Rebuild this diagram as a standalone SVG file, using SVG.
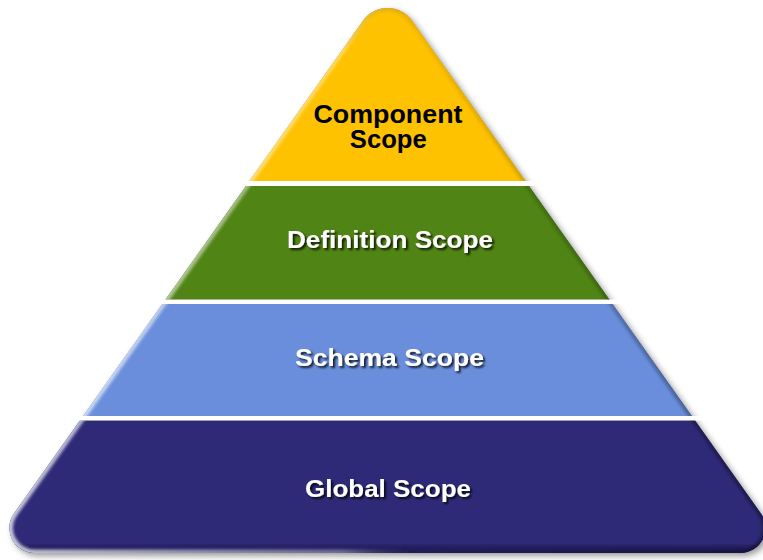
<svg xmlns="http://www.w3.org/2000/svg" width="763" height="560" viewBox="0 0 763 560">
  <defs>
    <!-- rounded pyramid outline -->
    <path id="pyr" d="M 363.1 20.5 A 30 30 0 0 1 411.9 20.5 L 761 513.5 A 25 25 0 0 1 740.6 553 L 34.4 553 A 25 25 0 0 1 14 513.5 Z"/>
    <clipPath id="c-top"><rect x="0" y="0" width="763" height="181"/></clipPath>
    <clipPath id="c-def"><rect x="0" y="186" width="763" height="113.5"/></clipPath>
    <clipPath id="c-sch"><rect x="0" y="304" width="763" height="112"/></clipPath>
    <clipPath id="c-glo"><rect x="0" y="420.5" width="763" height="140"/></clipPath>
    <clipPath id="c-pyr"><use href="#pyr"/></clipPath>
    <linearGradient id="edgeH" x1="0" y1="0" x2="763" y2="0" gradientUnits="userSpaceOnUse">
      <stop offset="0" stop-color="#fff" stop-opacity="0.75"/>
      <stop offset="0.45" stop-color="#fff" stop-opacity="0.35"/>
      <stop offset="0.55" stop-color="#000" stop-opacity="0.05"/>
      <stop offset="1" stop-color="#000" stop-opacity="0.35"/>
    </linearGradient>
    <filter id="soft" x="-5%" y="-5%" width="110%" height="110%">
      <feGaussianBlur stdDeviation="1.6"/>
    </filter>
    <filter id="drop" x="-5%" y="-5%" width="115%" height="115%">
      <feGaussianBlur in="SourceAlpha" stdDeviation="3"/>
      <feOffset dx="3" dy="3" result="b"/>
      <feFlood flood-color="#000" flood-opacity="0.4"/>
      <feComposite in2="b" operator="in"/>
      <feMerge><feMergeNode/><feMergeNode in="SourceGraphic"/></feMerge>
    </filter>
    <filter id="tshadow" x="-10%" y="-30%" width="120%" height="160%">
      <feGaussianBlur in="SourceAlpha" stdDeviation="1.2"/>
      <feOffset dx="1.5" dy="2" result="b"/>
      <feFlood flood-color="#000" flood-opacity="0.8"/>
      <feComposite in2="b" operator="in"/>
      <feMerge><feMergeNode/><feMergeNode in="SourceGraphic"/></feMerge>
    </filter>
  </defs>
  <style>
    .lbl { font-family: "Liberation Sans", Arial, Helvetica, sans-serif; font-weight: bold; text-anchor: middle; }
    .w { fill: #ffffff; }
    .k { fill: #000000; }
    .bevel { fill: none; stroke: url(#edgeH); stroke-width: 7; filter: url(#soft); }
  </style>

  <rect width="763" height="560" fill="#ffffff"/>

  <!-- soft shadow under the whole pyramid; the white gaps are cut back in over it -->
  <use href="#pyr" fill="#888888" filter="url(#drop)"/>
  <rect x="0" y="181" width="763" height="5" fill="#ffffff"/>
  <rect x="0" y="299.5" width="763" height="4.5" fill="#ffffff"/>
  <rect x="0" y="416" width="763" height="4.5" fill="#ffffff"/>

  <g id="global-scope">
    <g clip-path="url(#c-glo)">
      <g clip-path="url(#c-pyr)">
        <rect x="0" y="420.5" width="763" height="140" fill="#2e2a78"/>
        <rect x="0" y="545" width="763" height="12" fill="#1a1750" opacity="0.6" filter="url(#soft)"/>
        <use href="#pyr" class="bevel"/>
      </g>
    </g>
    <text class="lbl w" x="388" y="497" font-size="24.5" textLength="166" lengthAdjust="spacingAndGlyphs" filter="url(#tshadow)">Global Scope</text>
  </g>

  <g id="schema-scope">
    <g clip-path="url(#c-sch)">
      <g clip-path="url(#c-pyr)">
        <rect x="0" y="304" width="763" height="112" fill="#6a8edb"/>
        <use href="#pyr" class="bevel"/>
      </g>
    </g>
    <text class="lbl w" x="389.5" y="365.5" font-size="24" textLength="189" lengthAdjust="spacingAndGlyphs" filter="url(#tshadow)">Schema Scope</text>
  </g>

  <g id="definition-scope">
    <g clip-path="url(#c-def)">
      <g clip-path="url(#c-pyr)">
        <rect x="0" y="186" width="763" height="113.5" fill="#508414"/>
        <use href="#pyr" class="bevel"/>
      </g>
    </g>
    <text class="lbl w" x="390" y="247.5" font-size="24" textLength="206" lengthAdjust="spacingAndGlyphs" filter="url(#tshadow)">Definition Scope</text>
  </g>

  <g id="component-scope">
    <g clip-path="url(#c-top)">
      <g clip-path="url(#c-pyr)">
        <rect x="0" y="0" width="763" height="181" fill="#ffc200"/>
        <use href="#pyr" class="bevel"/>
      </g>
    </g>
    <text class="lbl k" x="388" y="123" font-size="25.5" textLength="149" lengthAdjust="spacingAndGlyphs">Component</text>
    <text class="lbl k" x="388.3" y="148" font-size="25.5" textLength="77" lengthAdjust="spacingAndGlyphs">Scope</text>
  </g>
</svg>
